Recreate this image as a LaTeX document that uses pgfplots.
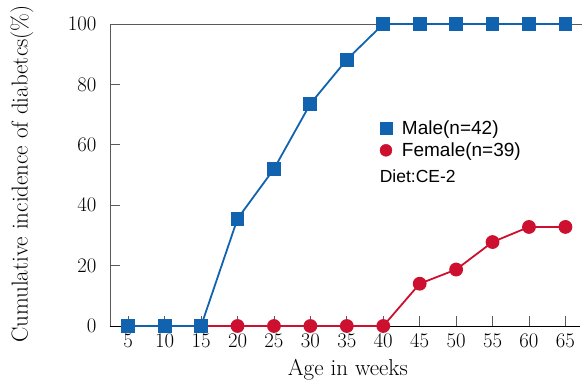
\documentclass[border=0pt]{standalone}
\usepackage{pgfplots}
\pgfplotsset{compat=1.18}
\usepackage{fontspec}
\newfontfamily\legfont{Liberation Sans}
\definecolor{mblue}{RGB}{17,99,175}
\definecolor{fred}{RGB}{206,16,48}
\definecolor{axgray}{RGB}{90,90,90}
\begin{document}
\begin{tikzpicture}
\begin{axis}[
  scale only axis, width=470pt, height=302pt,
  xmin=2.5, xmax=67, ymin=0, ymax=100,
  axis x line*=bottom, axis y line*=left,
  axis line style={-, line width=0.9pt},
  x axis line style={black}, y axis line style={axgray},
  xtick={5,10,...,65}, ytick={0,20,40,60,80,100},
  tick align=inside, major tick length=10pt,
  tick style={axgray, line width=0.8pt},
  ticklabel style={font=\fontsize{21}{23}\selectfont},
  xticklabel style={yshift=-5pt},
  yticklabel style={xshift=-10pt},
  xlabel={Age in weeks}, ylabel={Cumulative incidence of diabetcs(\%)},
  label style={font=\fontsize{23}{26}\selectfont},
  xlabel style={at={(axis description cs:0.506,0)}, anchor=center, yshift=-44pt},
  ylabel style={at={(axis description cs:0,0.503)}, anchor=center, yshift=88pt},
  clip=false,
  legend style={draw=none, fill=none, font=\legfont\fontsize{19}{22}\selectfont,
    at={(axis description cs:0.574,0.688)}, anchor=north west,
    row sep=3pt, column sep=8pt, inner sep=0pt},
  legend cell align=left,
]
\draw[axgray, line width=0.9pt] (axis cs:2.5,100) -- (axis cs:67.3,100);
\addplot[fred, line width=1.8pt, mark=*, mark size=6pt, forget plot] coordinates {
  (5,0) (10,0) (15,0) (20,0) (25,0) (30,0) (35,0) (40,0)
  (45,14) (50,18.7) (55,27.8) (60,32.8) (65,32.8)};
\addplot[mblue, line width=1.8pt, mark=square*, mark size=6pt, forget plot] coordinates {
  (5,0) (10,0) (15,0) (20,35.5) (25,52) (30,73.6) (35,88.2)
  (40,100) (45,100) (50,100) (55,100) (60,100) (65,100)};
\addlegendimage{only marks, mark=square*, mblue, mark size=6pt}
\addlegendentry{Male(n=42)}
\addlegendimage{only marks, mark=*, fred, mark size=6pt}
\addlegendentry{Female(n=39)}
\node[anchor=west, font=\legfont\fontsize{17.5}{21}\selectfont, inner sep=0pt] at (axis cs:39.5,49.7) {Diet:CE-2};
\end{axis}
\pgfresetboundingbox
\path[use as bounding box] ([xshift=-110pt,yshift=-54pt]current axis.south west) rectangle ([xshift=2pt,yshift=24pt]current axis.north east);
\end{tikzpicture}
\end{document}
